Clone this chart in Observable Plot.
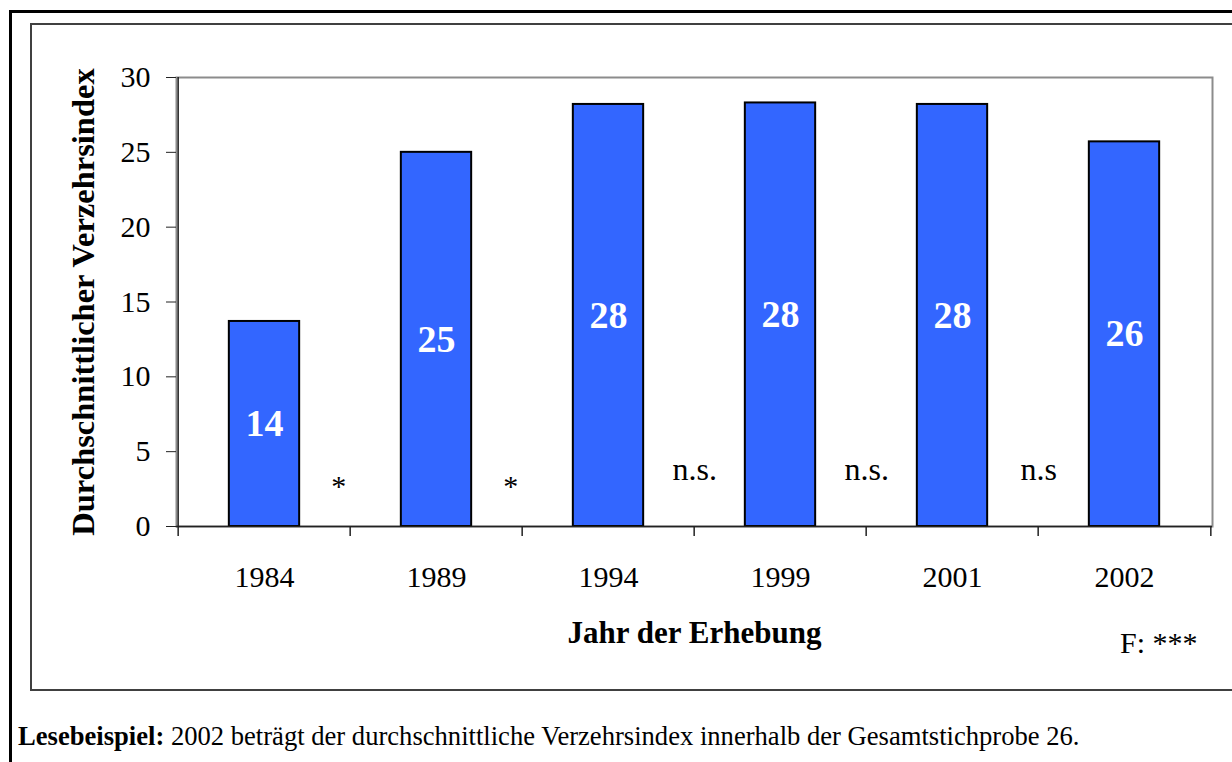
<!DOCTYPE html>
<html>
<head>
<meta charset="utf-8">
<script src="https://cdn.jsdelivr.net/npm/d3@7"></script>
<script src="https://cdn.jsdelivr.net/npm/@observablehq/plot@0.6"></script>
<style>
html, body { margin: 0; padding: 0; background: #fff; overflow: hidden; }
#page { position: relative; width: 1232px; height: 762px; font-family: "Liberation Serif", "Times New Roman", serif; }
#outer { position: absolute; left: 9px; top: 10px; width: 1300px; height: 800px; border: 3px solid #000; box-sizing: border-box; }
#inner { position: absolute; left: 30px; top: 23px; width: 1300px; height: 668px; border: 2px solid #404040; box-sizing: border-box; }
#chart { position: absolute; left: 0; top: 0; }
#caption { position: absolute; left: 18px; top: 723px; font-size: 26.6px; line-height: 27px; white-space: nowrap; color: #000; }
</style>
</head>
<body>
<div id="page">
  <div id="outer"></div>
  <div id="inner"></div>
  <div id="chart"></div>
  <div id="caption"></div>
</div>
<script>
// ---- data ----
const years = ["1984", "1989", "1994", "1999", "2001", "2002"];
const values = [13.7, 25.0, 28.2, 28.3, 28.2, 25.7];
const yTicks = [0, 5, 10, 15, 20, 25, 30];
const sigLabels = ["*", "*", "n.s.", "n.s.", "n.s"];
const yLabel = "Durchschnittlicher Verzehrsindex";
const xLabel = "Jahr der Erhebung";
const fNote = "F: ***";
const captionBold = "Lesebeispiel:";
const captionText = " 2002 beträgt der durchschnittliche Verzehrsindex innerhalb der Gesamtstichprobe 26.";

// ---- layout ----
const W = 1232, H = 700;
const mL = 176, mR = 20, mT = 77, mB = 174;
const step = (W - mL - mR) / years.length;
const barW = 71;
const inset = (step - barW) / 2;
const frameH = H - mT - mB;

const bars = years.map((year, i) => ({year, value: values[i]}));
const sig = sigLabels.map((label, i) => ({year: years[i], label}));

const chart = Plot.plot({
  width: W,
  height: H,
  marginLeft: mL,
  marginRight: mR,
  marginTop: mT,
  marginBottom: mB,
  style: {fontFamily: '"Liberation Serif", "Times New Roman", serif', background: "transparent", color: "#000", overflow: "visible"},
  x: {domain: years, padding: 0, label: null},
  y: {domain: [0, 30], label: null},
  marks: [
    Plot.frame({stroke: "#8c8c8c", strokeWidth: 2}),
    Plot.barY(bars, {x: "year", y: "value", fill: "#3366ff", stroke: "#000", strokeWidth: 2, insetLeft: inset, insetRight: inset}),
    Plot.ruleY([0], {stroke: "#222", strokeWidth: 1.5}),
    Plot.ruleX(years.slice(0, 1), {x: d => d, dx: -step / 2, stroke: "#222", strokeWidth: 1.5}),
    Plot.ruleX(years, {x: d => d, dx: -step / 2, insetTop: frameH, insetBottom: -10, stroke: "#222", strokeWidth: 1.5}),
    Plot.ruleX(years.slice(-1), {x: d => d, dx: step / 2, insetTop: frameH, insetBottom: -10, stroke: "#222", strokeWidth: 1.5}),
    Plot.axisY({ticks: yTicks, tickSize: 10, tickPadding: 16, fontSize: 30, tickFormat: d => String(d), stroke: "#222", label: null}),
    Plot.axisY({ticks: [], tickSize: 0, label: yLabel, labelAnchor: "center", labelArrow: "none", labelOffset: 106, fontSize: 32.5, fontWeight: "bold"}),
    Plot.axisX({tickSize: 0, tickPadding: 39, fontSize: 30, label: null}),
    Plot.text(bars, {x: "year", y: d => d.value / 2, text: d => String(Math.round(d.value)), fill: "#fff", fontWeight: "bold", fontSize: 38}),
    Plot.text(sig, {filter: d => d.label !== "*", x: "year", dx: step / 2, frameAnchor: "bottom", dy: -47, text: "label", fontSize: 32}),
    Plot.text(sig, {filter: d => d.label === "*", x: "year", dx: step / 2 - 12, frameAnchor: "bottom", dy: -31, text: "label", fontSize: 30}),
    Plot.text([xLabel], {frameAnchor: "bottom", dy: 116, fontSize: 31, fontWeight: "bold"}),
    Plot.text([fNote], {frameAnchor: "bottom-right", dx: -15, dy: 126, textAnchor: "end", fontSize: 30})
  ]
});
document.getElementById("chart").appendChild(chart);

const cap = document.getElementById("caption");
const b = document.createElement("b");
b.textContent = captionBold;
cap.appendChild(b);
cap.appendChild(document.createTextNode(captionText));
</script>
</body>
</html>
